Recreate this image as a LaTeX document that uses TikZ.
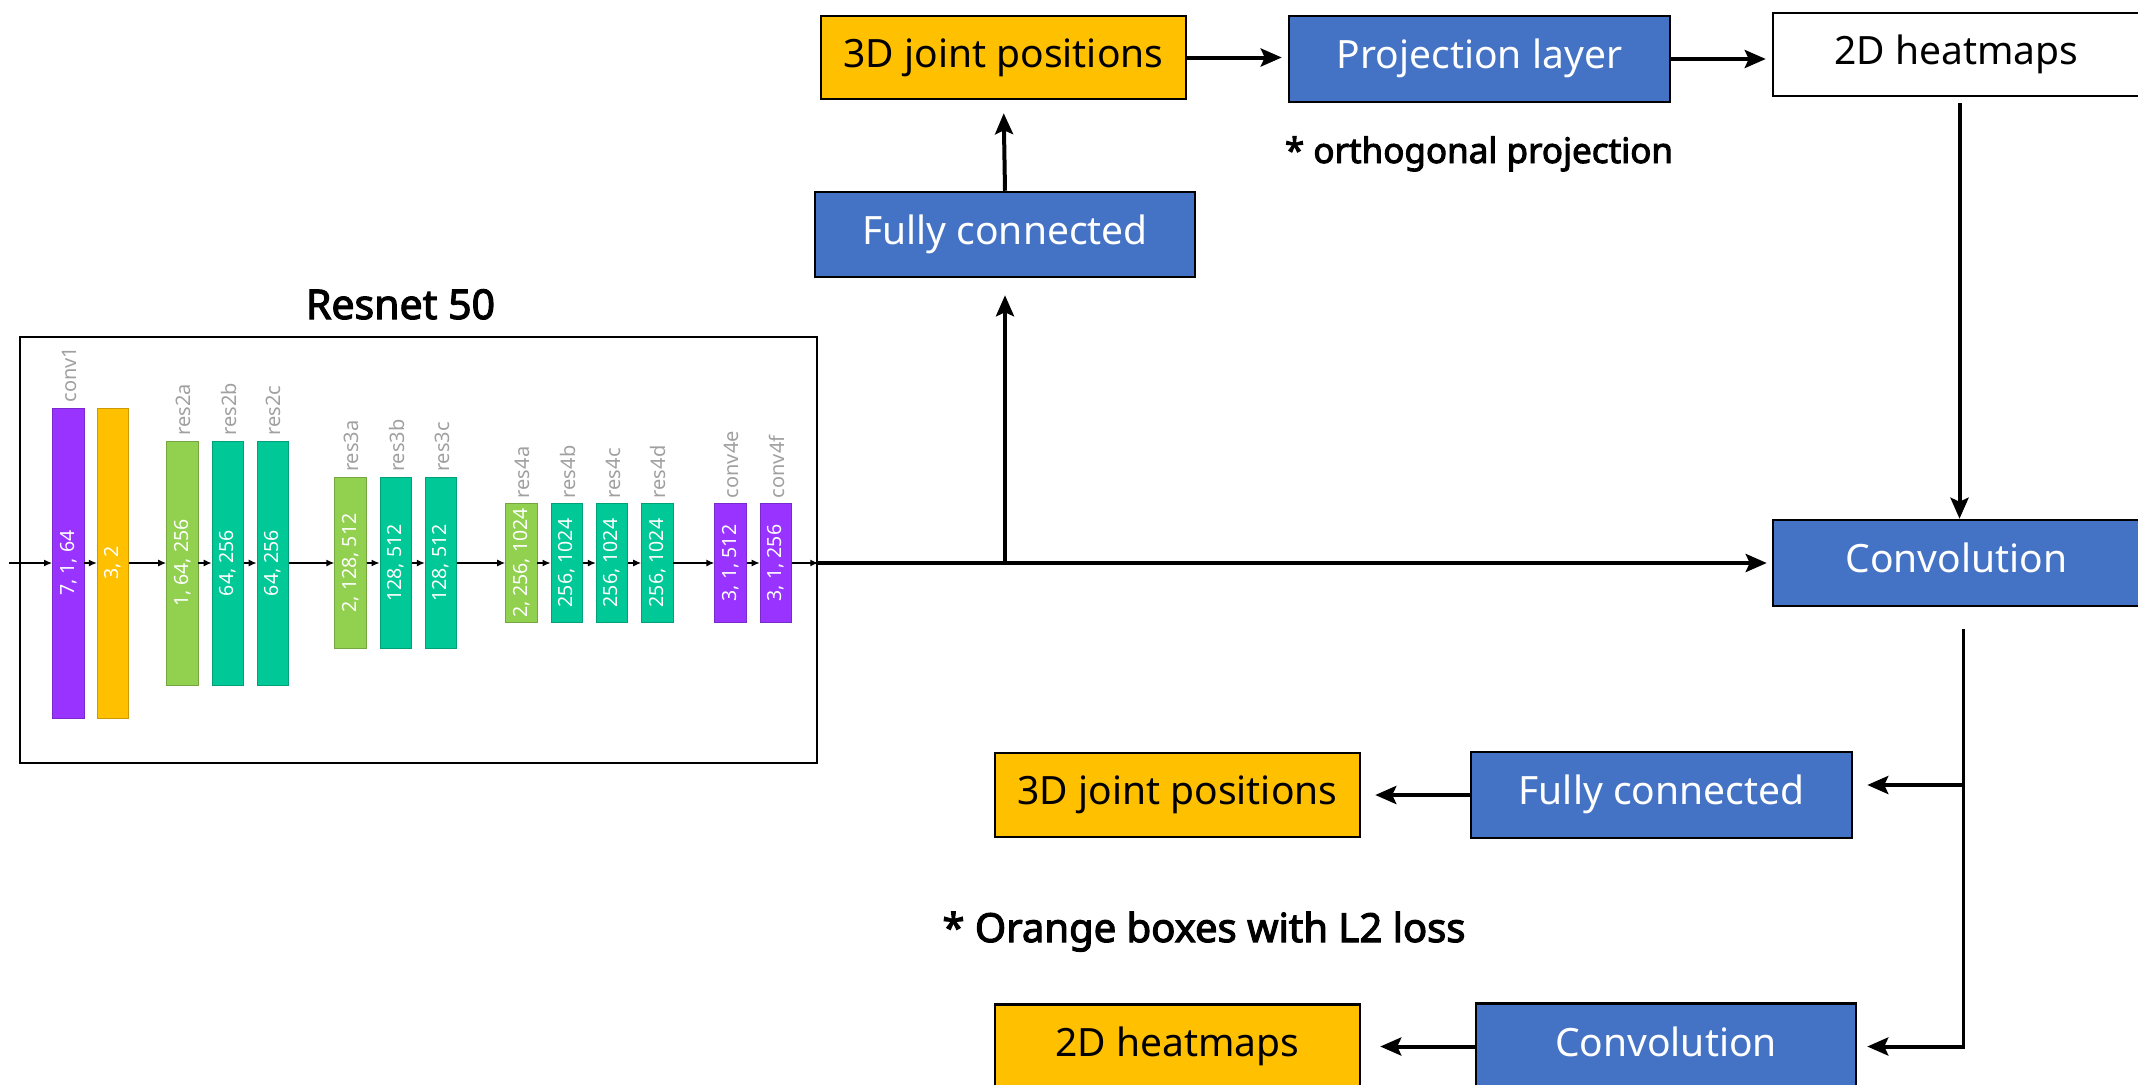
\documentclass[tikz,border=0pt]{standalone}
\usepackage{fontspec}
\setmainfont{Noto Sans}[AutoFakeBold=2.8]
\usetikzlibrary{arrows.meta}

\definecolor{boxblue}{HTML}{4472C4}
\definecolor{boxorange}{HTML}{FFC000}
\definecolor{barpurple}{HTML}{9933FF}
\definecolor{barlime}{HTML}{92D050}
\definecolor{barteal}{HTML}{00C896}
\definecolor{lblgray}{HTML}{A0A0A0}

\begin{document}
\begin{tikzpicture}[x=1pt,y=-1pt,
  blk/.style={draw=black, line width=2.5pt, minimum width=#1, minimum height=85pt,
    inner sep=0pt, text height=28pt, text depth=9pt, font=\fontsize{39}{46}\selectfont},
  bluebox/.style={blk=#1, fill=boxblue, text=white},
  orangebox/.style={blk=#1, fill=boxorange, text=black},
  whitebox/.style={blk=#1, fill=white, text=black},
  bigarrow/.style={line width=4pt, -{Stealth[length=21pt,width=18pt,inset=4pt]}},
  layerbar/.style={draw=#1!80!black, fill=#1, line width=0.8pt, minimum width=31.5pt, inner sep=0pt},
  bartext/.style={rotate=90, text=white, font=\fontsize{19.5}{22}\selectfont, inner sep=0pt},
  barname/.style={rotate=90, anchor=west, text=lblgray, font=\fontsize{20}{23}\selectfont, inner sep=0pt},
  smallarrow/.style={line width=1.3pt, -{Latex[length=8pt,width=7pt]}},
  note/.style={anchor=base, font=\fontsize{#1}{#1}\selectfont\bfseries}
]
\useasboundingbox (0,0) rectangle (2138,1084);

% ---------- backbone ----------
\node[note=41] (title) at (400.5,319) {Resnet 50};
\node[draw=black, line width=2.5pt, minimum width=797pt, minimum height=426pt, inner sep=0pt]
  (resnet) at (418.5,550) {};

% layer bars: conv1 + pool
\node[layerbar=barpurple, minimum height=310pt] (b1) at (68.2,563) {};
\node[layerbar=boxorange, minimum height=310pt] (b2) at (113,563) {};
% res2
\node[layerbar=barlime, minimum height=244pt] (b3) at (182.3,563) {};
\node[layerbar=barteal, minimum height=244pt] (b4) at (227.8,563) {};
\node[layerbar=barteal, minimum height=244pt] (b5) at (272.8,563) {};
% res3
\node[layerbar=barlime, minimum height=171pt] (b6) at (350.5,563) {};
\node[layerbar=barteal, minimum height=171pt] (b7) at (395.7,563) {};
\node[layerbar=barteal, minimum height=171pt] (b8) at (441,563) {};
% res4
\node[layerbar=barlime, minimum height=118.5pt] (b9) at (521.3,563) {};
\node[layerbar=barteal, minimum height=118.5pt] (b10) at (566.7,563) {};
\node[layerbar=barteal, minimum height=118.5pt] (b11) at (612,563) {};
\node[layerbar=barteal, minimum height=118.5pt] (b12) at (657.3,563) {};
% conv4e, conv4f
\node[layerbar=barpurple, minimum height=118.5pt] (b13) at (730.5,563) {};
\node[layerbar=barpurple, minimum height=118.5pt] (b14) at (775.8,563) {};

% texts inside the bars
\node[bartext] (t1) at (b1) {7, 1, 64};
\node[bartext] (t2) at (b2) {3, 2};
\node[bartext] (t3) at (b3) {1, 64, 256};
\node[bartext] (t4) at (b4) {64, 256};
\node[bartext] (t5) at (b5) {64, 256};
\node[bartext] (t6) at (b6) {2, 128, 512};
\node[bartext] (t7) at (b7) {128, 512};
\node[bartext] (t8) at (b8) {128, 512};
\node[bartext] (t9) at (b9) {2, 256, 1024};
\node[bartext] (t10) at (b10) {256, 1024};
\node[bartext] (t11) at (b11) {256, 1024};
\node[bartext] (t12) at (b12) {256, 1024};
\node[bartext] (t13) at (b13) {3, 1, 512};
\node[bartext] (t14) at (b14) {3, 1, 256};

% layer names above the bars
\node[barname] (n1) at ([xshift=1pt,yshift=5pt]b1.north) {conv1};
\node[barname] (n3) at ([xshift=1pt,yshift=5pt]b3.north) {res2a};
\node[barname] (n4) at ([xshift=1pt,yshift=5pt]b4.north) {res2b};
\node[barname] (n5) at ([xshift=1pt,yshift=5pt]b5.north) {res2c};
\node[barname] (n6) at ([xshift=1pt,yshift=5pt]b6.north) {res3a};
\node[barname] (n7) at ([xshift=1pt,yshift=5pt]b7.north) {res3b};
\node[barname] (n8) at ([xshift=1pt,yshift=5pt]b8.north) {res3c};
\node[barname] (n9) at ([xshift=1pt,yshift=5pt]b9.north) {res4a};
\node[barname] (n10) at ([xshift=1pt,yshift=5pt]b10.north) {res4b};
\node[barname] (n11) at ([xshift=1pt,yshift=5pt]b11.north) {res4c};
\node[barname] (n12) at ([xshift=1pt,yshift=5pt]b12.north) {res4d};
\node[barname] (n13) at ([xshift=1pt,yshift=5pt]b13.north) {conv4e};
\node[barname] (n14) at ([xshift=1pt,yshift=5pt]b14.north) {conv4f};

% data flow through the backbone
\coordinate (input) at (9,563);
\draw[smallarrow] (input) -- (b1);
\foreach \a/\b in {b1/b2,b2/b3,b3/b4,b4/b5,b5/b6,b6/b7,b7/b8,b8/b9,b9/b10,b10/b11,b11/b12,b12/b13,b13/b14}
  \draw[smallarrow] (\a) -- (\b);
\coordinate (rnout) at (resnet.east |- b14);
\draw[smallarrow] (b14) -- (rnout);

% ---------- heads ----------
\node[orangebox=365pt, minimum height=83pt] (j3top) at (1003.5,57.5) {3D joint positions};
\node[bluebox=381pt, minimum height=86pt] (proj) at (1479.5,59) {Projection layer};
\node[whitebox=367pt, minimum height=83pt] (hm2top) at (1956.5,54.5) {2D heatmaps};
\node[bluebox=380pt] (fctop) at (1005,234.5) {Fully connected};
\node[note=35] (ortho) at (1479,163) {* orthogonal projection};

\node[bluebox=367pt, minimum height=86pt] (convR) at (1956.5,563) {Convolution};

\node[bluebox=381pt, minimum height=86pt] (fcbot) at (1661.5,795) {Fully connected};
\node[orangebox=365pt, minimum height=84pt] (j3bot) at (1177.5,795) {3D joint positions};
\node[note=40] (loss) at (1204,942) {* Orange boxes with L2 loss};
\node[bluebox=380pt, minimum height=86pt] (convbot) at (1666,1046.5) {Convolution};
\node[orangebox=365pt, minimum height=84pt] (hm2bot) at (1177.5,1046.5) {2D heatmaps};

% ---------- connectors ----------
\draw[bigarrow, shorten >=5pt] (rnout) -- (convR.west);
\coordinate (branch) at (fctop.south |- rnout);
\draw[bigarrow, shorten >=17pt] (branch) -- (fctop.south);
\draw[bigarrow, shorten >=13pt] (fctop.north) -- (j3top.south);
\draw[bigarrow, shorten >=6pt] (j3top.east) -- (j3top.east -| proj.west);
\draw[bigarrow, shorten >=6pt] (proj.east) -- (proj.east -| hm2top.west);
\draw[bigarrow, shorten <=6pt] ([xshift=3pt]hm2top.south) -- ([xshift=3pt]convR.north);

\coordinate (split) at ([xshift=7pt,yshift=-22pt]convR.south);
\coordinate (tapfc) at (split |- 0,785);
\coordinate (tapconv) at (split |- convbot);
\draw[line width=2.5pt] (split) -- ([yshift=-2pt]tapconv);
\draw[bigarrow, shorten >=14pt] (tapfc) -- (tapfc -| fcbot.east);
\draw[bigarrow, shorten >=10pt] (tapconv) -- (convbot.east);
\draw[bigarrow, shorten >=14pt] (fcbot.west) -- (j3bot.east);
\draw[bigarrow, shorten >=19pt] (convbot.west) -- (hm2bot.east);
\end{tikzpicture}
\end{document}
